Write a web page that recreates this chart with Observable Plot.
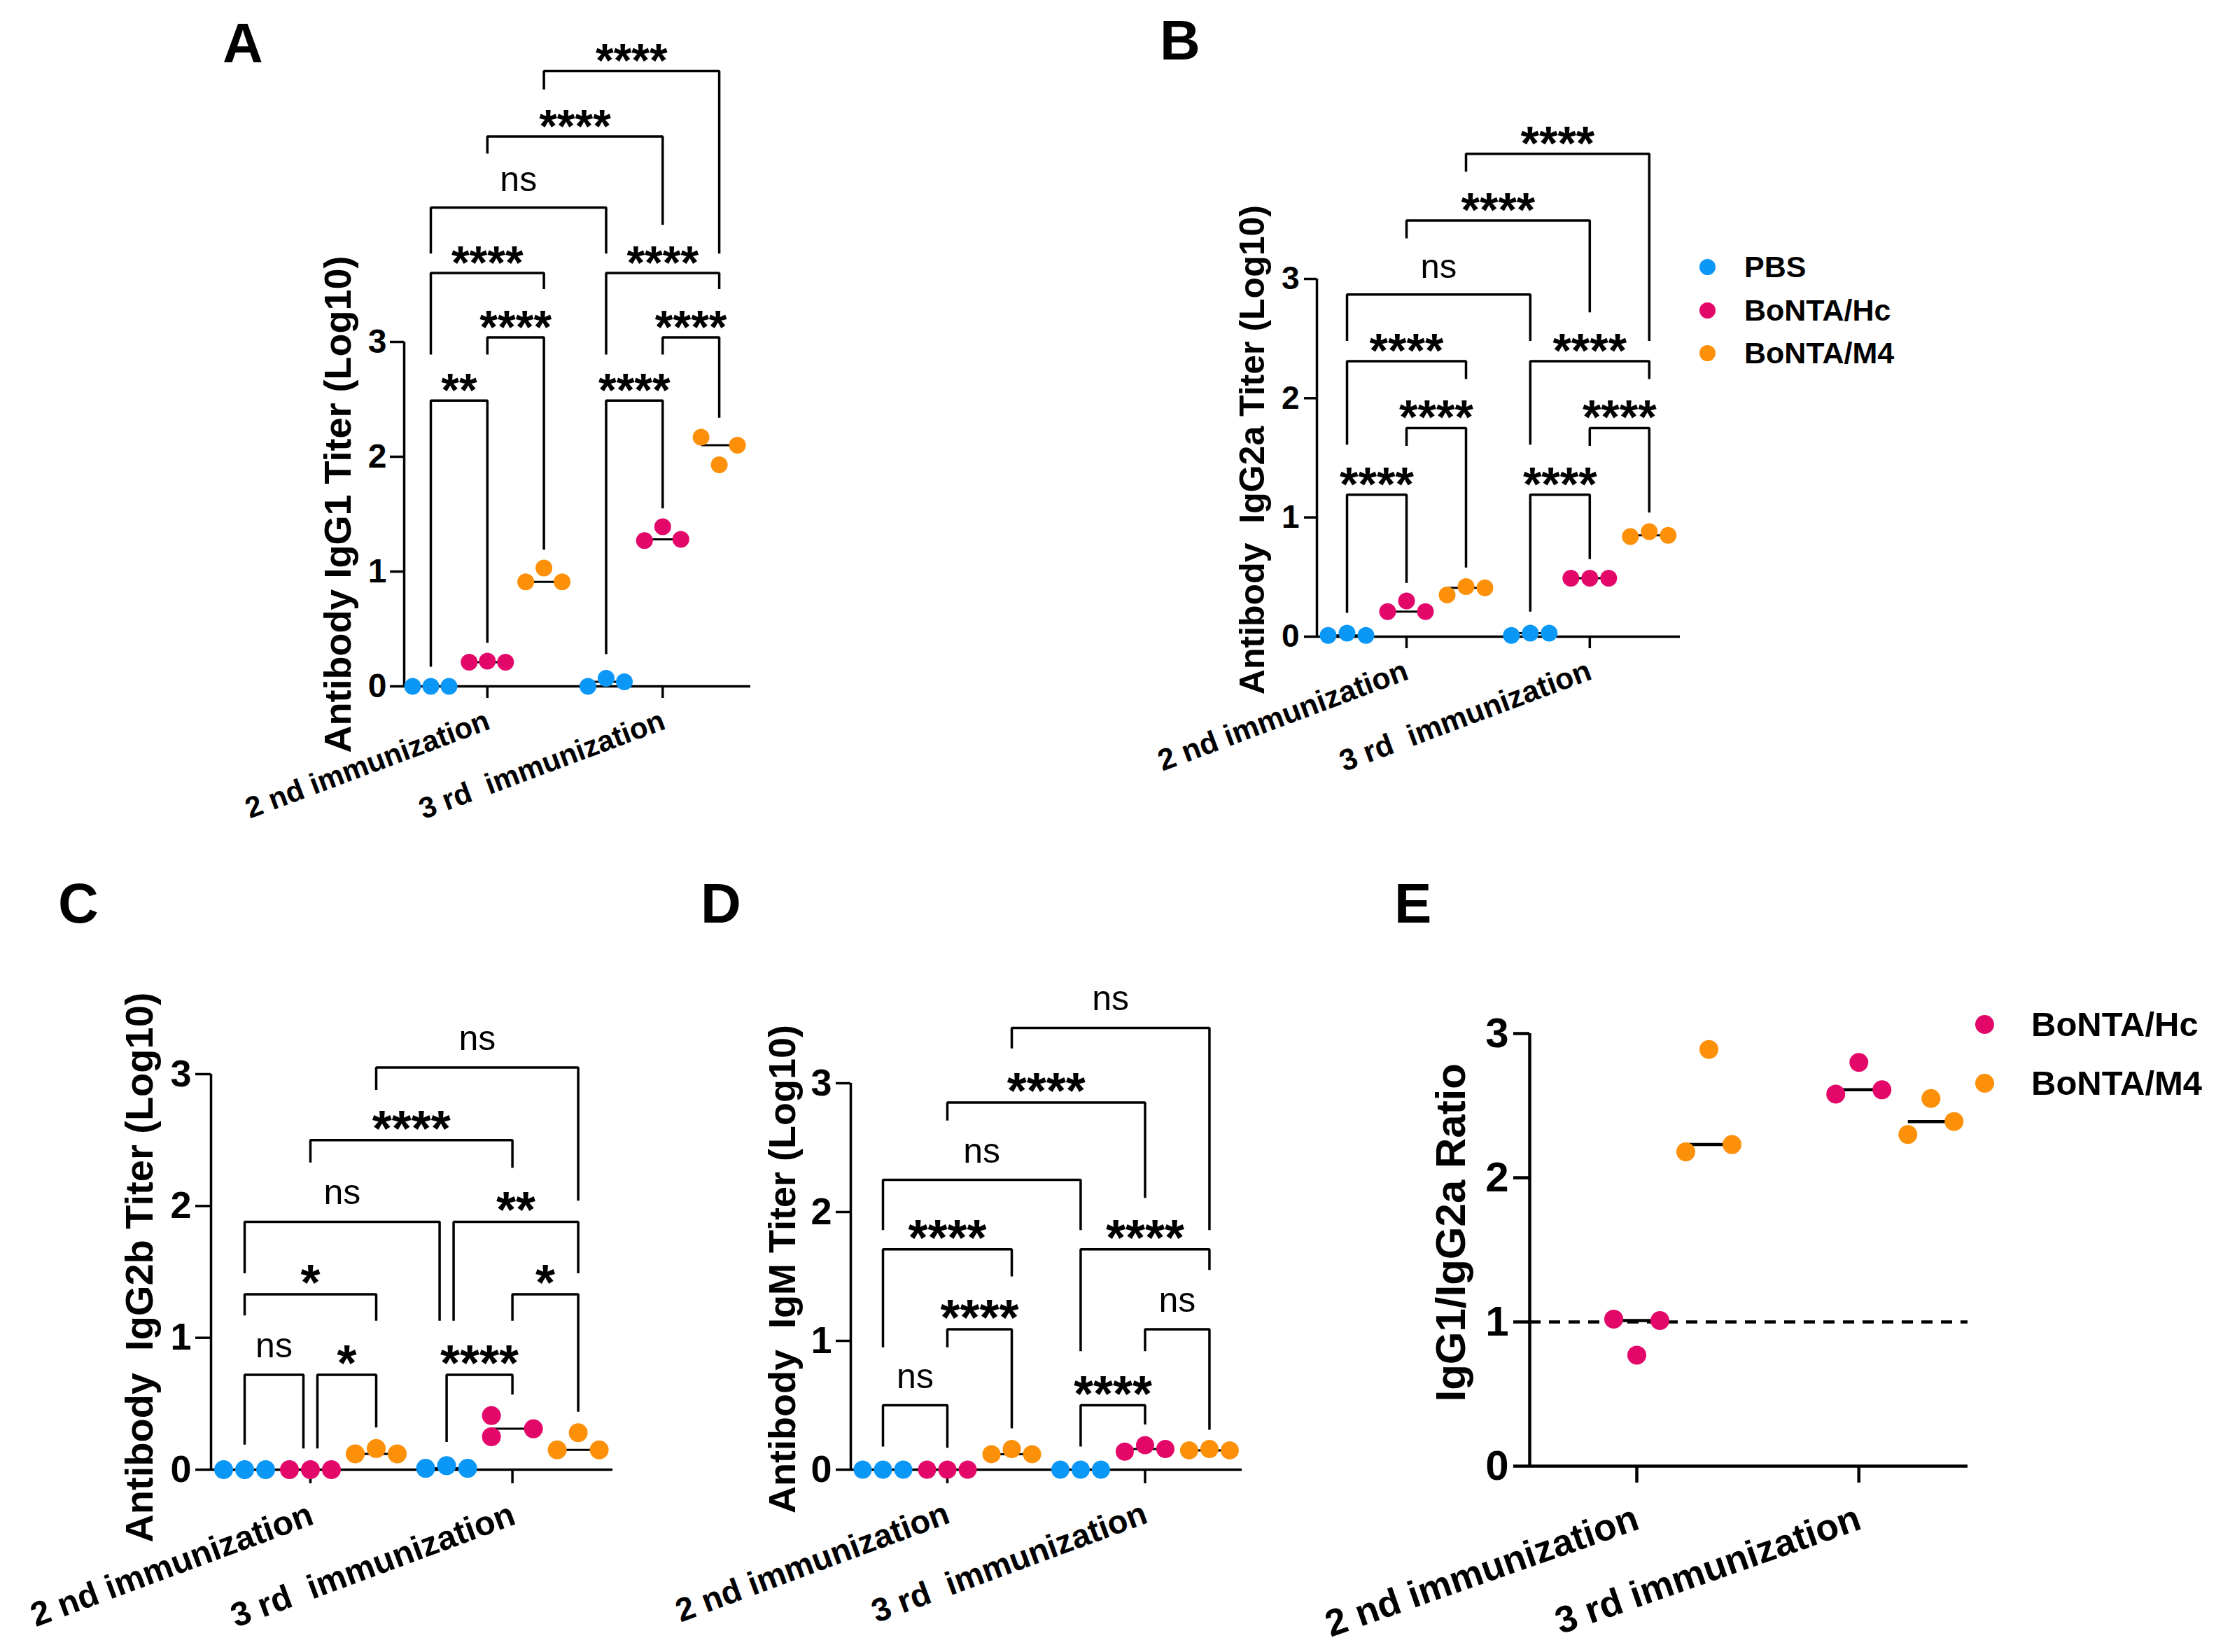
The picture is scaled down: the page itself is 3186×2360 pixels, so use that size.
<!DOCTYPE html>
<html><head><meta charset="utf-8">
<script src="https://cdn.jsdelivr.net/npm/d3@7"></script>
<script src="https://cdn.jsdelivr.net/npm/@observablehq/plot@0.6"></script>
<style>
html,body{margin:0;padding:0;background:#fff;}
#page{position:relative;width:3186px;height:2360px;overflow:hidden;background:#fff;font-family:"Liberation Sans",Arial,sans-serif;color:#000;}
#page svg{position:absolute;left:0;top:0;}
.letter{position:absolute;font-weight:bold;font-size:80px;line-height:80px;white-space:pre;}
.lrow{position:absolute;display:flex;align-items:center;font-weight:bold;white-space:pre;line-height:1;}
.sw{border-radius:50%;flex:none;}
</style></head><body><div id="page"></div>
<script>
// ---------- shared categories ----------
const groupNames = ["PBS", "BoNTA/Hc", "BoNTA/M4"];
const groupColors = ["#0b97f5", "#e4076a", "#fc9008"];
const immunizations = ["2 nd immunization", "3 rd  immunization"];
const immunizationsE = ["2 nd immunization", "3 rd immunization"];
const yTicks = [0, 1, 2, 3];

// ---------- A: IgG1 (3 mice at 2nd, then 3 mice at 3rd) ----------
const igg1PBS = [0.00, 0.00, 0.00, 0.00, 0.07, 0.04];
const igg1Hc  = [0.21, 0.22, 0.21, 1.27, 1.39, 1.28];
const igg1M4  = [0.91, 1.03, 0.91, 2.17, 1.93, 2.10];
// comparisons: [group i, group j, bar level, leg i end, leg j end, label]  (groups 0-2: 2nd, 3-5: 3rd)
const igg1Sig = [
  [0, 1, 2.49, 0.17, 0.38, "**"],
  [1, 2, 3.04, 2.89, 1.19, "****"],
  [0, 2, 3.60, 2.89, 3.46, "****"],
  [0, 3, 4.17, 3.77, 3.77, "ns"],
  [1, 4, 4.79, 4.64, 4.02, "****"],
  [2, 5, 5.36, 5.20, 3.77, "****"],
  [3, 4, 2.49, 0.28, 1.55, "****"],
  [4, 5, 3.04, 2.89, 2.34, "****"],
  [3, 5, 3.60, 2.89, 3.46, "****"]
];

// ---------- B: IgG2a ----------
const igg2aPBS = [0.01, 0.03, 0.01, 0.01, 0.03, 0.03];
const igg2aHc  = [0.21, 0.30, 0.21, 0.49, 0.49, 0.49];
const igg2aM4  = [0.35, 0.42, 0.41, 0.84, 0.88, 0.85];
const igg2aSig = [
  [0, 1, 1.19, 0.20, 0.45, "****"],
  [1, 2, 1.75, 1.60, 0.58, "****"],
  [0, 2, 2.31, 1.61, 2.16, "****"],
  [0, 3, 2.87, 2.48, 2.48, "ns"],
  [1, 4, 3.49, 3.34, 2.72, "****"],
  [2, 5, 4.05, 3.90, 2.48, "****"],
  [3, 4, 1.19, 0.21, 0.65, "****"],
  [4, 5, 1.75, 1.60, 1.04, "****"],
  [3, 5, 2.31, 1.61, 2.16, "****"]
];

// ---------- C: IgG2b ----------
const igg2bPBS = [0.00, 0.00, 0.00, 0.01, 0.03, 0.01];
const igg2bHc  = [0.00, 0.00, 0.00, 0.41, 0.25, 0.31];
const igg2bM4  = [0.12, 0.16, 0.12, 0.15, 0.28, 0.15];
const igg2bSig = [
  [0, 1, 0.72, 0.19, 0.16, "ns"],
  [1, 2, 0.72, 0.16, 0.32, "*"],
  [0, 2, 1.33, 1.17, 1.13, "*"],
  [0, 3, 1.88, 1.49, 1.13, "ns"],
  [3, 5, 1.88, 1.13, 1.49, "**"],
  [3, 4, 0.72, 0.21, 0.57, "****"],
  [4, 5, 1.33, 1.13, 0.44, "*"],
  [1, 4, 2.50, 2.33, 2.29, "****"],
  [2, 5, 3.05, 2.88, 2.04, "ns"]
];

// ---------- D: IgM ----------
const igmPBS = [0.00, 0.00, 0.00, 0.00, 0.00, 0.00];
const igmHc  = [0.00, 0.00, 0.00, 0.14, 0.19, 0.16];
const igmM4  = [0.12, 0.16, 0.12, 0.15, 0.16, 0.15];
const igmSig = [
  [0, 1, 0.50, 0.18, 0.17, "ns"],
  [1, 2, 1.09, 0.95, 0.32, "****"],
  [0, 2, 1.71, 0.95, 1.50, "****"],
  [0, 3, 2.25, 1.86, 1.86, "ns"],
  [1, 4, 2.85, 2.71, 2.11, "****"],
  [2, 5, 3.43, 3.27, 1.86, "ns"],
  [3, 4, 0.50, 0.18, 0.35, "****"],
  [4, 5, 1.09, 0.92, 0.31, "ns"],
  [3, 5, 1.71, 0.92, 1.55, "****"]
];

// ---------- E: IgG1/IgG2a ratio ----------
const ratioHc = [1.02, 0.77, 1.01, 2.58, 2.80, 2.61];
const ratioM4 = [2.18, 2.89, 2.23, 2.30, 2.55, 2.39];
const ratioRef = [1];

// ---------- panel layout (pixels) ----------
const W = 3186, H = 2360;
const panels = [
  {letter: "A", letterAt: [321, 32], yLabel: "Antibody IgG1 Titer (Log10)", cats: immunizations,
   series: [igg1PBS, igg1Hc, igg1M4], colorIdx: [0, 1, 2], sig: igg1Sig, tickSub: 1,
   left: 577, right: 1072, y0: 980, y3: 488, firstX: 615, unit: 80.8, catGap: 3.1,
   r: 12, spread: 26, sw: 3.5, medSw: 3, tickFont: 48, tickSize: 20, tickPad: 5, xTick: 17,
   catFont: 42, catDx: 6, catDy: 60, catRot: -20.5, yLabFont: 54, yLabDx: -94, yLabY: 1.585,
   starFont: 66, starDy: 8, nsFont: 50, nsDy: -24},
  {letter: "B", letterAt: [1660, 28], yLabel: "Antibody  IgG2a Titer (Log10)", cats: immunizations,
   series: [igg2aPBS, igg2aHc, igg2aM4], colorIdx: [0, 1, 2], sig: igg2aSig, tickSub: 1,
   left: 1881, right: 2400, y0: 909, y3: 398, firstX: 1924, unit: 85, catGap: 3.08,
   r: 12, spread: 27, sw: 3.5, medSw: 3, tickFont: 46, tickSize: 18, tickPad: 7, xTick: 17,
   catFont: 43, catDx: 5, catDy: 60, catRot: -20.5, yLabFont: 50, yLabDx: -92, yLabY: 1.567,
   starFont: 68, starDy: 8, nsFont: 49, nsDy: -24,
   legend: {cx: 2439, cy: [381, 443, 504], r: 11.5, textX: 2492, font: 43, idx: [0, 1, 2]}},
  {letter: "C", letterAt: [86, 1261], yLabel: "Antibody  IgG2b Titer (Log10)", cats: immunizations,
   series: [igg2bPBS, igg2bHc, igg2bM4], colorIdx: [0, 1, 2], sig: igg2bSig, tickSub: 1,
   slots: {4: [-1, -1, 1]},
   left: 301, right: 875, y0: 2099, y3: 1534, firstX: 349, unit: 94, catGap: 3.07,
   r: 13.5, spread: 30, sw: 3.5, medSw: 3, tickFont: 54, tickSize: 22, tickPad: 6, xTick: 20,
   catFont: 48.5, catDx: 7, catDy: 77, catRot: -20.3, yLabFont: 56, yLabDx: -101, yLabY: 1.534,
   starFont: 72, starDy: 8, nsFont: 50, nsDy: -25},
  {letter: "D", letterAt: [1004, 1261], yLabel: "Antibody  IgM Titer (Log10)", cats: immunizations,
   series: [igmPBS, igmHc, igmM4], colorIdx: [0, 1, 2], sig: igmSig, tickSub: 1,
   left: 1215, right: 1774, y0: 2099, y3: 1547, firstX: 1261, unit: 92, catGap: 3.07,
   r: 13, spread: 29, sw: 3.5, medSw: 3, tickFont: 54, tickSize: 21, tickPad: 6, xTick: 20,
   catFont: 47, catDx: 6, catDy: 75, catRot: -20.3, yLabFont: 54, yLabDx: -97, yLabY: 1.557,
   starFont: 72, starDy: 8, nsFont: 50, nsDy: -25},
  {letter: "E", letterAt: [1995, 1261], yLabel: "IgG1/IgG2a Ratio", cats: immunizationsE,
   series: [ratioHc, ratioM4], colorIdx: [1, 2], sig: [], tickSub: 0, ref: ratioRef,
   left: 2185, right: 2811, y0: 2094, y3: 1476, firstX: 2338, unit: 103, catGap: 3.08,
   r: 13.5, spread: 33, sw: 4.5, medSw: 4.5, tickFont: 60, tickSize: 23, tickPad: 7, xTick: 24,
   catFont: 53.5, catDx: 6, catDy: 89, catRot: -19.3, yLabFont: 60, yLabDx: -112, yLabY: 1.62,
   starFont: 62, starDy: 7, nsFont: 50, nsDy: -24,
   legend: {cx: 2835, cy: [1463, 1547], r: 13.5, textX: 2902, font: 49, idx: [1, 2]}}
];

const FONT = '"Liberation Sans", Arial, sans-serif';
const page = document.getElementById("page");

function buildPanel(p) {
  const nS = p.series.length;
  const sp = p.spread / p.unit;
  const pos = (g) => Math.floor(g / nS) * p.catGap + (g % nS);
  const xmin = (p.left - p.firstX) / p.unit;
  const xmax = (p.right - p.firstX) / p.unit;

  const dots = [], meds = [];
  p.series.forEach((vals, s) => {
    for (let c = 0; c < 2; c++) {
      const g = c * nS + s;
      const reps = vals.slice(c * 3, c * 3 + 3);
      const slots = (p.slots && p.slots[g]) || [-1, 0, 1];
      reps.forEach((v, k) => dots.push({x: pos(g) + slots[k] * sp, y: v, fill: groupColors[p.colorIdx[s]]}));
      meds.push({x1: pos(g) - sp, x2: pos(g) + sp, y: d3.median(reps)});
    }
  });

  const br = p.sig.map(([a, b, top, la, lb, label], i) => ({a, b, top, la, lb, label, i}));
  const shift = 10 / p.unit;
  const pts = [], labs = [];
  br.forEach((d) => {
    const same = br.filter((e) => e !== d && Math.abs(e.top - d.top) < 0.02);
    const xa = pos(d.a) + (same.some((e) => e.b === d.a) ? shift : 0);
    const xb = pos(d.b) - (same.some((e) => e.a === d.b) ? shift : 0);
    pts.push({x: xa, y: d.la, z: d.i}, {x: xa, y: d.top, z: d.i}, {x: xb, y: d.top, z: d.i}, {x: xb, y: d.lb, z: d.i});
    labs.push({x: (xa + xb) / 2, y: d.top, label: d.label, star: d.label.includes("*")});
  });

  const catTicks = p.cats.map((name, c) => ({x: pos(c * nS + p.tickSub), name}));

  const marks = [
    Plot.ruleY([0], {strokeWidth: p.sw}),
    Plot.ruleX([xmin], {y1: 0, y2: 3, strokeWidth: p.sw}),
    Plot.axisY({ticks: yTicks, tickSize: p.tickSize, tickPadding: p.tickPad, fontSize: p.tickFont,
      fontWeight: "bold", strokeWidth: p.sw, label: null, tickFormat: (d) => String(d)}),
    Plot.axisX({ticks: catTicks.map((d) => d.x), tickSize: p.xTick, strokeWidth: p.sw,
      tickFormat: () => "", label: null}),
    Plot.text(catTicks, {x: "x", y: 0, text: "name", rotate: p.catRot, textAnchor: "end", lineAnchor: "bottom",
      dx: p.catDx, dy: p.catDy, fontSize: p.catFont, fontWeight: "bold"}),
    Plot.text([p.yLabel], {x: xmin, y: p.yLabY, text: (d) => d, rotate: -90, dx: p.yLabDx,
      lineAnchor: "middle", textAnchor: "middle", fontSize: p.yLabFont, fontWeight: "bold"}),
    Plot.line(pts, {x: "x", y: "y", z: "z", stroke: "black", strokeWidth: p.sw,
      strokeLinejoin: "miter", strokeLinecap: "butt", curve: "linear"})
  ];
  if (p.ref) marks.push(Plot.ruleY(p.ref, {strokeWidth: p.sw, strokeDasharray: "16,12"}));
  marks.push(
    Plot.link(meds, {x1: "x1", x2: "x2", y1: "y", y2: "y", stroke: "black", strokeWidth: p.medSw}),
    Plot.dot(dots, {x: "x", y: "y", r: p.r, fill: "fill", stroke: null}),
    Plot.text(labs.filter((d) => d.star), {x: "x", y: "y", text: "label", lineAnchor: "bottom",
      dy: p.starDy, fontSize: p.starFont, fontWeight: "bold"}),
    Plot.text(labs.filter((d) => !d.star), {x: "x", y: "y", text: "label", lineAnchor: "bottom",
      dy: p.nsDy, fontSize: p.nsFont, fontWeight: "normal"})
  );

  const svg = Plot.plot({
    width: W, height: H,
    marginLeft: p.left, marginRight: W - p.right, marginTop: p.y3, marginBottom: H - p.y0,
    x: {domain: [xmin, xmax]},
    y: {domain: [0, 3]},
    color: {type: "identity"},
    style: {background: "transparent", fontFamily: FONT, color: "black", overflow: "visible", maxWidth: "none"},
    marks
  });
  page.appendChild(svg);

  const L = document.createElement("div");
  L.className = "letter";
  L.textContent = p.letter;
  L.style.left = (p.letterAt[0] - 3) + "px";
  L.style.top = (p.letterAt[1] - 10) + "px";
  page.appendChild(L);

  if (p.legend) {
    const lg = p.legend;
    lg.idx.forEach((gi, k) => {
      const row = document.createElement("div");
      row.className = "lrow";
      const h = 2 * lg.r + 20;
      row.style.left = (lg.cx - lg.r) + "px";
      row.style.top = (lg.cy[k] - h / 2) + "px";
      row.style.height = h + "px";
      row.style.fontSize = lg.font + "px";
      const sw = document.createElement("span");
      sw.className = "sw";
      sw.style.width = sw.style.height = (2 * lg.r) + "px";
      sw.style.background = groupColors[gi];
      sw.style.marginRight = (lg.textX - lg.cx - lg.r) + "px";
      const t = document.createElement("span");
      t.textContent = groupNames[gi];
      row.appendChild(sw);
      row.appendChild(t);
      page.appendChild(row);
    });
  }
}

panels.forEach(buildPanel);
</script>
</body></html>
